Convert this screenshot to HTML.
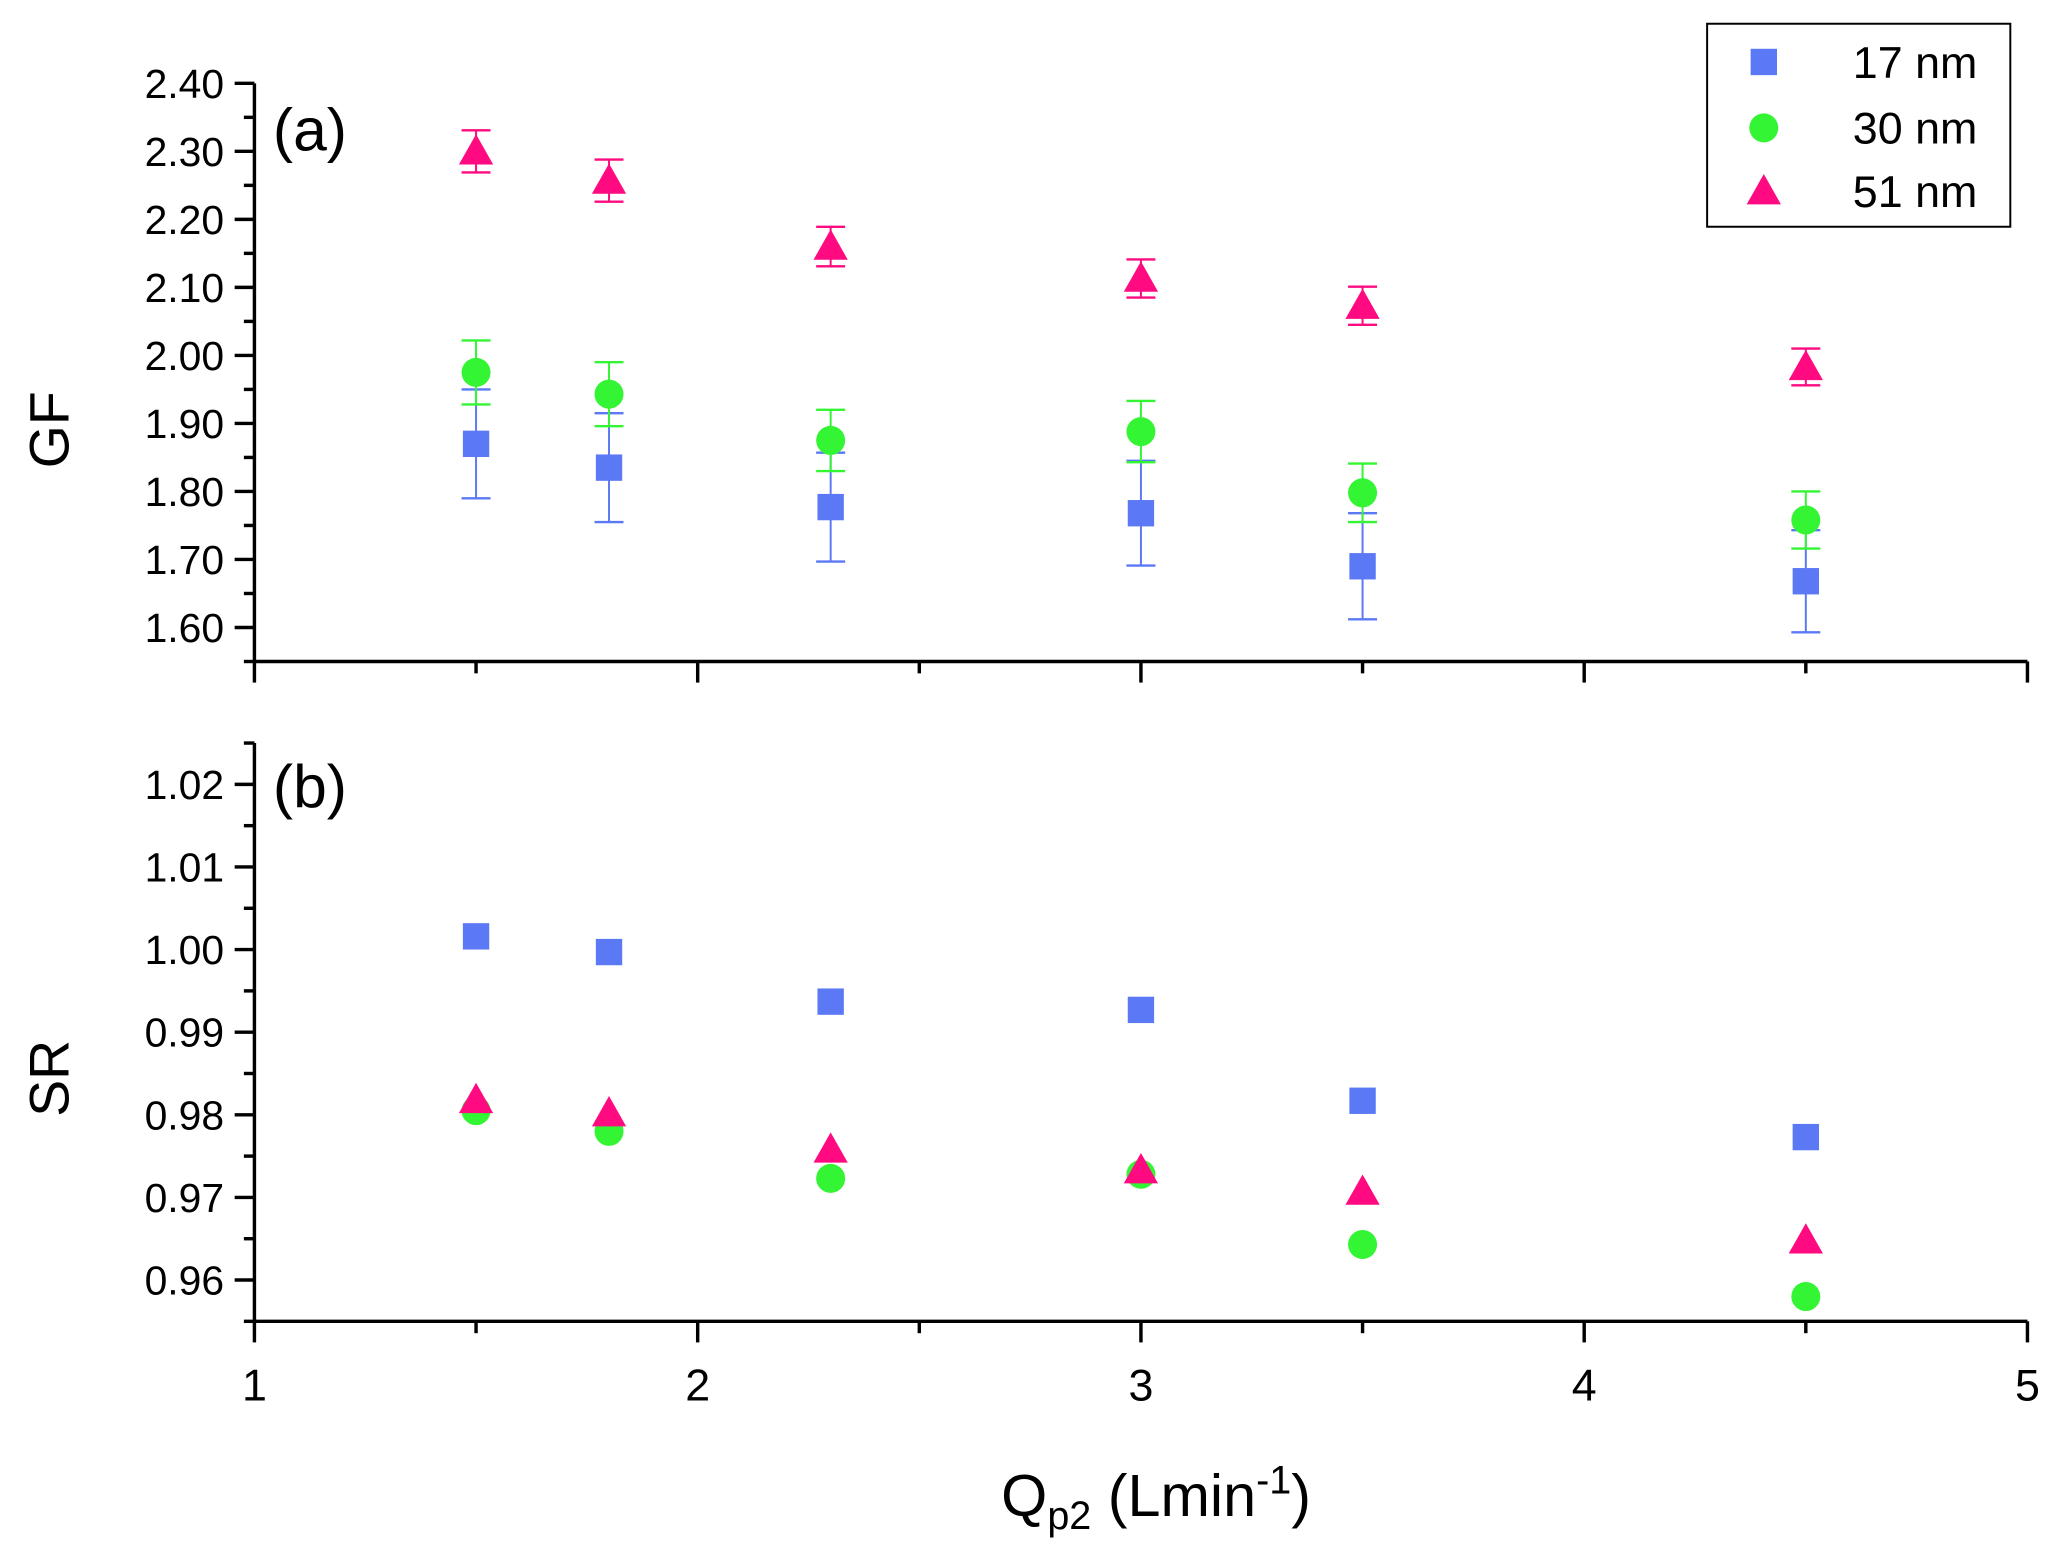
<!DOCTYPE html>
<html><head><meta charset="utf-8"><style>
html,body{margin:0;padding:0;background:#fff}
svg{display:block;font-family:"Liberation Sans",Arial,sans-serif}
</style></head><body>
<svg id="chart" width="2067" height="1568" viewBox="0 0 1568 1189.45" xmlns="http://www.w3.org/2000/svg">
<g id="g"></g>
</svg>
<script>
const xs = [1.5, 1.8, 2.3, 3.0, 3.5, 4.5];
const gf17 = [1.87, 1.835, 1.777, 1.768, 1.69, 1.668];
const gf30 = [1.975, 1.943, 1.875, 1.888, 1.798, 1.758];
const gf51 = [2.30, 2.257, 2.16, 2.113, 2.073, 1.983];
const gfErr17 = [0.08, 0.08, 0.08, 0.077, 0.078, 0.075];
const gfErr30 = [0.047, 0.047, 0.045, 0.045, 0.043, 0.042];
const gfErr51 = [0.031, 0.031, 0.029, 0.028, 0.028, 0.027];
const sr17 = [1.0016, 0.9997, 0.9937, 0.9927, 0.9817, 0.9773];
const sr30 = [0.9805, 0.978, 0.9723, 0.9728, 0.9643, 0.958];
const sr51 = [0.9818, 0.9802, 0.9758, 0.9733, 0.9707, 0.9648];
const xTicks = [1, 2, 3, 4, 5];
const gfTicks = ["1.60","1.70","1.80","1.90","2.00","2.10","2.20","2.30","2.40"];
const srTicks = ["0.96","0.97","0.98","0.99","1.00","1.01","1.02"];
const seriesNames = ["17 nm", "30 nm", "51 nm"];

const NS = "http://www.w3.org/2000/svg";
const g = document.getElementById('g');
const C = {b:"#5b78f5", gr:"#33f533", p:"#ff0a80"};
function el(t, a, parent){const e=document.createElementNS(NS,t);for(const k in a)e.setAttribute(k,a[k]);(parent||g).appendChild(e);return e;}
const X = v => 193 + (v-1)*336.25;
const Ya = v => 476 - (v-1.6)*516;
const Yb = v => 971 - (v-0.96)*6266.7;

function axes(Y, ticks, yBottomVal, yTopVal, name){
  const ax = el('g', {});
  
  
  const yb = Y(yBottomVal), yt = Y(yTopVal);
  el('line',{x1:193,y1:yt,x2:193,y2:yb,stroke:'#000','stroke-width':2.6},ax);
  el('line',{x1:193,y1:yb,x2:1538,y2:yb,stroke:'#000','stroke-width':2.6},ax);
  ticks.forEach((t,i)=>{
    const v=parseFloat(t), y=Y(v);
    el('line',{x1:178,y1:y,x2:193,y2:y,stroke:'#000','stroke-width':2.6},ax);
    const tx=el('text',{x:170,y:y+11,'text-anchor':'end','font-size':31},ax); tx.textContent=t;
    const step = parseFloat(ticks[1])-parseFloat(ticks[0]);
    const mv=v+step/2; const my=Y(mv);
    if(my>=yt-1) el('line',{x1:185,y1:my,x2:193,y2:my,stroke:'#000','stroke-width':2.6},ax);
    if(i===0){const m2=Y(v-step/2); if(m2<=yb+1) el('line',{x1:185,y1:m2,x2:193,y2:m2,stroke:'#000','stroke-width':2.6},ax);}
  });
  xTicks.forEach(v=>{
    el('line',{x1:X(v),y1:yb,x2:X(v),y2:yb+16,stroke:'#000','stroke-width':2.6},ax);
    if(v<5) el('line',{x1:X(v+0.5),y1:yb,x2:X(v+0.5),y2:yb+9,stroke:'#000','stroke-width':2.6},ax);
  });
  return yb;
}
axes(Ya, gfTicks, 1.55, 2.40, 'gf');
const ybB = axes(Yb, srTicks, 0.955, 1.025, 'sr');
xTicks.forEach(v=>{
  const t=el('text',{x:X(v),y:ybB+60,'text-anchor':'middle','font-size':34}); t.textContent=v;
   
});

function sq(x,y,c){return el('rect',{x:x-10,y:y-10,width:20,height:20,fill:c});}
function ci(x,y,c){return el('circle',{cx:x,cy:y,r:11,fill:c});}
function tr(x,y,c){return el('polygon',{points:`${x},${y-13} ${x+13},${y+10} ${x-13},${y+10}`,fill:c});}
function err(x,v,e,Y,c){
  const y1=Y(v+e), y2=Y(v-e);
  el('line',{x1:x,y1:y1,x2:x,y2:y2,stroke:c,'stroke-width':1.5});
  el('line',{x1:x-11,y1:y1,x2:x+11,y2:y1,stroke:c,'stroke-width':1.8});
  el('line',{x1:x-11,y1:y2,x2:x+11,y2:y2,stroke:c,'stroke-width':1.8});
}
xs.forEach((x,i)=>{
  err(X(x),gf17[i],gfErr17[i],Ya,C.b);
  err(X(x),gf30[i],gfErr30[i],Ya,C.gr);
  err(X(x),gf51[i],gfErr51[i],Ya,C.p);
});
xs.forEach((x,i)=>{
  let m;
  m=ci(X(x),Ya(gf30[i]),C.gr);  
  m=sq(X(x),Ya(gf17[i]),C.b);  
  m=tr(X(x),Ya(gf51[i]),C.p);  
  m=sq(X(x),Yb(sr17[i]),C.b);  
  m=ci(X(x),Yb(sr30[i]),C.gr);  
  m=tr(X(x),Yb(sr51[i]),C.p);  
});

let t;
t=el('text',{x:207,y:114,'font-size':46}); t.textContent='(a)';  
t=el('text',{x:207,y:612,'font-size':46}); t.textContent='(b)';  
t=el('text',{x:0,y:0,'font-size':42,'text-anchor':'middle',transform:'translate(52,326) rotate(-90)'}); t.textContent='GF';  
t=el('text',{x:0,y:0,'font-size':42,'text-anchor':'middle',transform:'translate(52,818) rotate(-90)'}); t.textContent='SR';  
t=el('text',{x:877,y:1150,'font-size':45,'text-anchor':'middle'});
t.innerHTML='Q<tspan font-size="30" dy="10">p2</tspan><tspan dy="-10"> (Lmin</tspan><tspan font-size="30" dy="-17">-1</tspan><tspan dy="17">)</tspan>';
 

const lg=el('g',{});
 
el('rect',{x:1295,y:18,width:230,height:154,fill:'#fff',stroke:'#000','stroke-width':1.5},lg);
const ly=[47,97,145];
sq(1338,ly[0],C.b); ci(1338,ly[1],C.gr); tr(1338,ly[2],C.p);
seriesNames.forEach((n,i)=>{const tt=el('text',{x:1500,y:ly[i]+12,'text-anchor':'end','font-size':34},lg); tt.textContent=n;
  });
</script>
</body></html>
